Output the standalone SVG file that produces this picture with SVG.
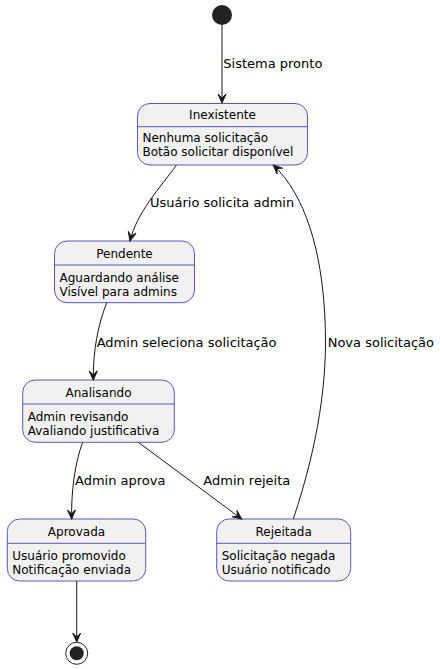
<svg xmlns="http://www.w3.org/2000/svg" width="440" height="669" viewBox="0 0 440 669">
<style>
.st{fill:#F1F1F1;stroke:#5858C0;stroke-width:1}
.dv{stroke:#5858C0;stroke-width:1}
.t{font-family:"DejaVu Sans",sans-serif;font-size:12px;fill:#000}
.c{text-anchor:middle}
.lb{font-family:"DejaVu Sans",sans-serif;font-size:13px;fill:#000}
.e{fill:none;stroke:#181818;stroke-width:1}
</style>
<defs>
<marker id="ah" viewBox="-10 -5 12 10" markerWidth="12" markerHeight="10" refX="0" refY="0" orient="auto" markerUnits="userSpaceOnUse">
<path d="M-9,-4 L0,0 L-9,4 L-5,0 Z" fill="#181818" stroke="#181818" stroke-width="1"/>
</marker>
</defs>
<rect width="440" height="669" fill="#FFFFFF"/>
<g id="start"><circle cx="222" cy="15" r="10" fill="#222222"/></g>
<g id="end"><circle cx="76.7" cy="653.3" r="11" fill="none" stroke="#222222" stroke-width="1"/><circle cx="76.7" cy="653.3" r="7" fill="#222222"/></g>
<g id="Inexistente">
<rect class="st" x="137.5" y="103.5" width="170" height="61.5" rx="12.5"/>
<line class="dv" x1="137.5" y1="126.7" x2="307.5" y2="126.7"/>
<text class="t c" x="222.5" y="119.3">Inexistente</text>
<text class="t" x="142.5" y="141.7">Nenhuma solicitação</text>
<text class="t" x="142.5" y="156.2">Botão solicitar disponível</text>
</g>
<g id="Pendente">
<rect class="st" x="54.5" y="241" width="140" height="61.7" rx="12.5"/>
<line class="dv" x1="54.5" y1="265" x2="194.5" y2="265"/>
<text class="t c" x="124.5" y="257.5">Pendente</text>
<text class="t" x="59.5" y="281.7">Aguardando análise</text>
<text class="t" x="59.5" y="296">Visível para admins</text>
</g>
<g id="Analisando">
<rect class="st" x="22.7" y="380" width="151.6" height="62.3" rx="12.5"/>
<line class="dv" x1="22.7" y1="404" x2="174.3" y2="404"/>
<text class="t c" x="98.5" y="396.5">Analisando</text>
<text class="t" x="27.7" y="420.7">Admin revisando</text>
<text class="t" x="27.7" y="435">Avaliando justificativa</text>
</g>
<g id="Aprovada">
<rect class="st" x="7.3" y="519" width="138.4" height="62" rx="12.5"/>
<line class="dv" x1="7.3" y1="543.3" x2="145.7" y2="543.3"/>
<text class="t c" x="76.5" y="535.5">Aprovada</text>
<text class="t" x="12.3" y="560">Usuário promovido</text>
<text class="t" x="12.3" y="574.3">Notificação enviada</text>
</g>
<g id="Rejeitada">
<rect class="st" x="216.7" y="519" width="134" height="62" rx="12.5"/>
<line class="dv" x1="216.7" y1="543.3" x2="350.7" y2="543.3"/>
<text class="t c" x="283.7" y="535.5">Rejeitada</text>
<text class="t" x="221.7" y="560">Solicitação negada</text>
<text class="t" x="221.7" y="574.3">Usuário notificado</text>
</g>
<g id="connectors">
<path class="e" d="M222,25 L222,103" marker-end="url(#ah)"/>
<text class="lb" x="223.3" y="68.3">Sistema pronto</text>
<path class="e" d="M176.5,165 C160,188 137,212 130,241" marker-end="url(#ah)"/>
<text class="lb" x="150" y="207">Usuário solicita admin</text>
<path class="e" d="M106.7,302.7 C98,325 93,350 93.3,380" marker-end="url(#ah)"/>
<text class="lb" x="96.7" y="346.7">Admin seleciona solicitação</text>
<path class="e" d="M82.7,442.3 C75,462 71,492 71.7,519" marker-end="url(#ah)"/>
<text class="lb" x="75" y="485">Admin aprova</text>
<path class="e" d="M138.3,442.3 L241.7,519" marker-end="url(#ah)"/>
<text class="lb" x="203.3" y="485">Admin rejeita</text>
<path class="e" d="M293.3,519 C318,445 328,380 325,320 C322,250 305,195 273.3,165" marker-end="url(#ah)"/>
<text class="lb" x="327.7" y="346.7">Nova solicitação</text>
<path class="e" d="M76.7,581 L76.7,642" marker-end="url(#ah)"/>
</g>
</svg>
